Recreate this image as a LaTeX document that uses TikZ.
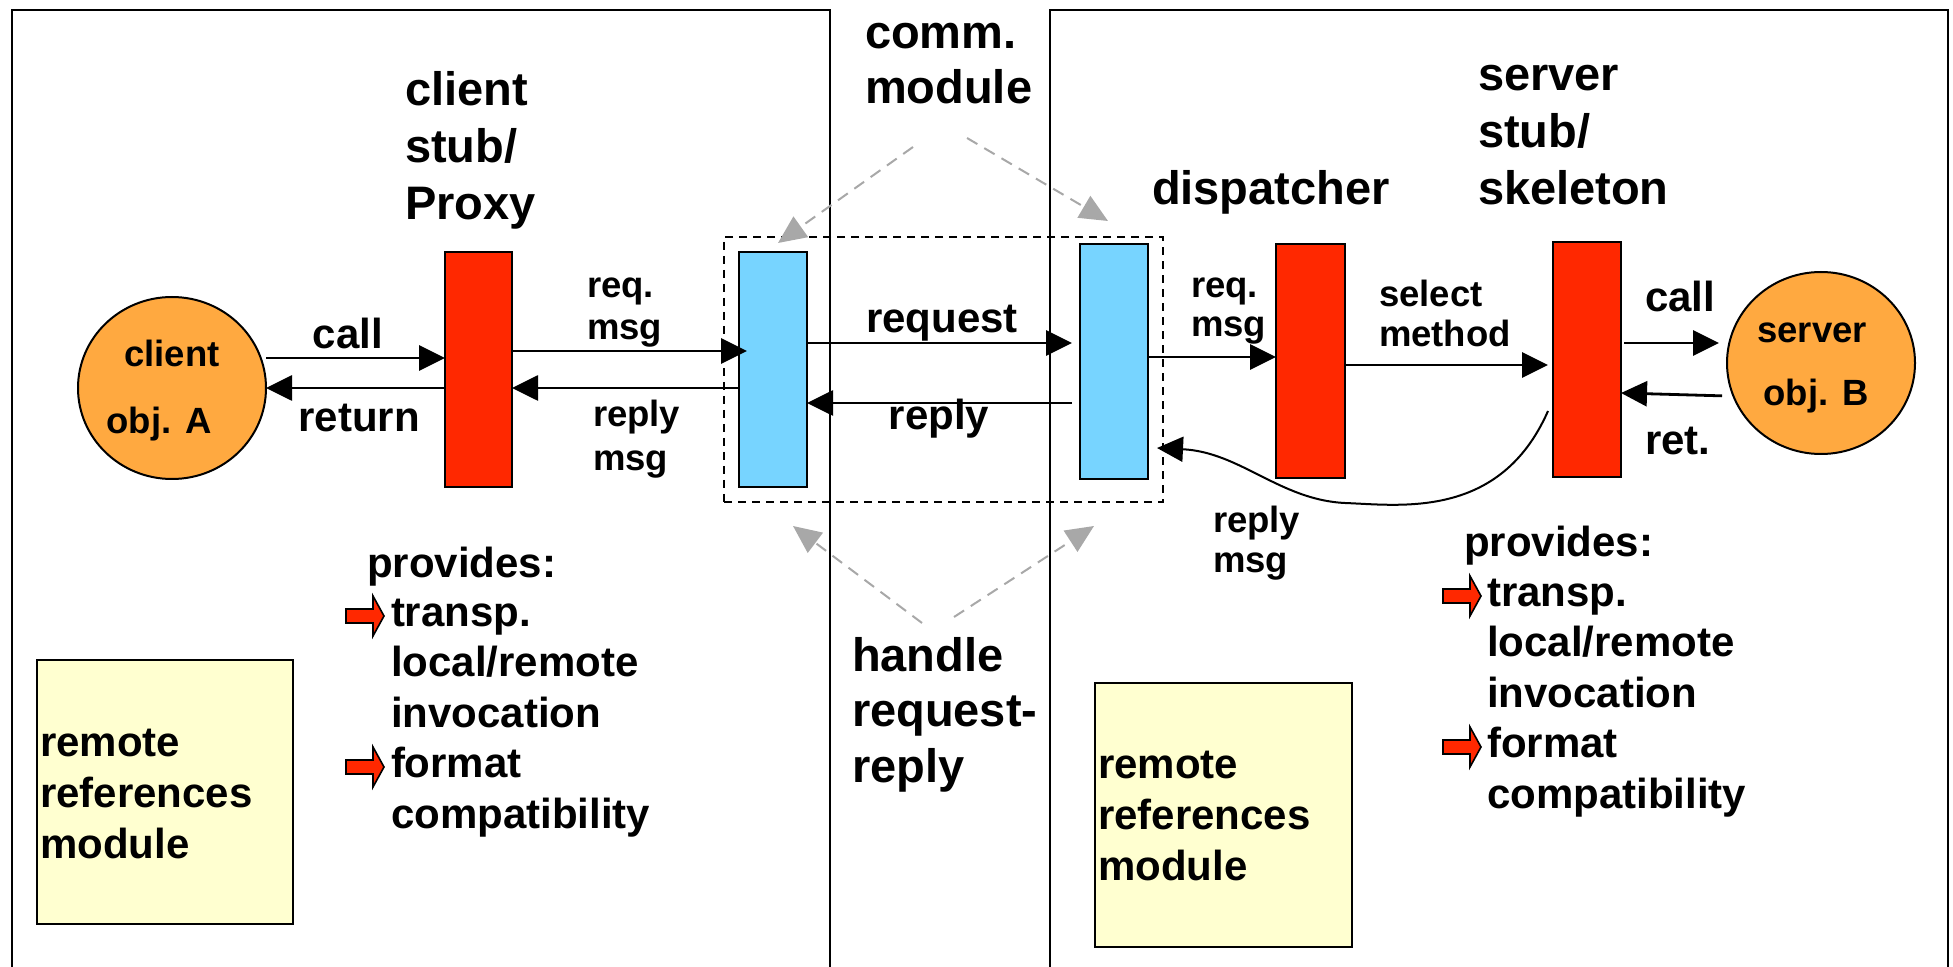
\documentclass[tikz,border=0pt]{standalone}
\usepackage{fontspec}
\setmainfont{Liberation Sans}
\usetikzlibrary{arrows.meta,shapes.geometric}
\definecolor{barred}{RGB}{255,40,0}
\definecolor{barblue}{RGB}{119,212,255}
\definecolor{objorange}{RGB}{255,169,64}
\definecolor{refyellow}{RGB}{255,255,208}
\definecolor{hintgray}{RGB}{168,168,168}
\newcommand{\lns}[1]{\begin{tabular}[t]{@{}l@{}}#1\end{tabular}}
\tikzset{
  bigtxt/.style={anchor=base west, inner sep=0pt, outer sep=0pt, font=\fontsize{23.5}{28.5}\selectfont\bfseries},
  midtxt/.style={anchor=base west, inner sep=0pt, outer sep=0pt, font=\fontsize{21}{24.75}\selectfont\bfseries},
  smalltxt/.style={anchor=base west, inner sep=0pt, outer sep=0pt, font=\fontsize{18.25}{20.5}\selectfont\bfseries},
  redbar/.style={draw=black, line width=1pt, fill=barred, inner sep=0pt, outer sep=0pt},
  bluebar/.style={draw=black, line width=1pt, fill=barblue, inner sep=0pt, outer sep=0pt},
  objell/.style={ellipse, draw=black, line width=1pt, fill=objorange, inner sep=0pt, outer sep=0pt, minimum width=94pt, minimum height=91pt},
  refbox/.style={draw=black, line width=1pt, fill=refyellow, inner sep=0pt, outer sep=0pt},
  panel/.style={draw=black, line width=1pt},
  arr/.style={draw=black, line width=1.4pt, -{Triangle[length=13pt,width=12.5pt]}},
  curvearr/.style={draw=black, line width=1pt, -{Triangle[length=13pt,width=12.5pt]}},
  hint/.style={draw=hintgray, line width=1pt, dash pattern=on 6pt off 4pt, -{Triangle[length=14pt,width=12.5pt]}},
  groupbox/.style={draw=black, line width=1pt, dash pattern=on 4pt off 3pt, inner sep=0pt, outer sep=0pt},
  bul/.style={draw=black, line width=0.8pt, fill=barred}
}
\newcommand{\bularrow}[2]{\draw[bul, shift={(#1,#2)}] (0,-7) -- (27,-7) -- (27,-20) -- (38,0) -- (27,20) -- (27,7) -- (0,7) -- cycle;}
\begin{document}
\begin{tikzpicture}[x=0.5pt,y=-0.5pt]
\useasboundingbox (0,0) rectangle (1953,967);
% panels
\draw[panel] (12,967) -- (12,10) -- (830,10) -- (830,967);
\draw[panel] (1050,967) -- (1050,10) -- (1948,10) -- (1948,967);

% remote reference boxes
\node[refbox, minimum width=128pt, minimum height=132pt] (refboxL) at (165,792) {};
\node[refbox, minimum width=128.5pt, minimum height=132pt] (refboxR) at (1223.5,815) {};
\node[midtxt, font=\fontsize{21}{25.5}\selectfont\bfseries] (refL) at (40,756) {\lns{remote\\references\\module}};
\node[midtxt, font=\fontsize{21}{25.5}\selectfont\bfseries] (refR) at (1098,778) {\lns{remote\\references\\module}};

% dashed comm. module group
\node[groupbox, minimum width=219.5pt, minimum height=132.5pt] (cbox) at (943.5,369.5) {};

% bars
\node[redbar, minimum width=33.5pt, minimum height=117.5pt] (cstub) at (478.5,369.5) {};
\node[bluebar, minimum width=34pt, minimum height=117.5pt] (lblue) at (773,369.5) {};
\node[bluebar, minimum width=34pt, minimum height=117.5pt] (rblue) at (1114,361.5) {};
\node[redbar, minimum width=34.5pt, minimum height=117pt] (disp) at (1310.5,361) {};
\node[redbar, minimum width=34pt, minimum height=117.5pt] (skel) at (1587,359.5) {};

% objects
\node[objell] (objA) at (172,388) {};
\node[objell] (objB) at (1821,363) {};
\node[smalltxt, anchor=base] (objAt1) at (172,367) {client};
\node[smalltxt, anchor=base] (objAt2) at (159,434) {obj. A};
\node[smalltxt, anchor=base] (objBt1) at (1812,343) {server};
\node[smalltxt, anchor=base] (objBt2) at (1816,406) {obj. B};

% big titles
\node[bigtxt] (cstubt) at (405,106) {\lns{client\\stub/\\Proxy}};
\node[bigtxt, font=\fontsize{23.5}{27.5}\selectfont\bfseries] (commt) at (865,49) {\lns{comm.\\module}};
\node[bigtxt] (dispt) at (1152,205) {dispatcher};
\node[bigtxt] (skelt) at (1478,91) {\lns{server\\stub/\\skeleton}};
\node[bigtxt, font=\fontsize{23.5}{27.75}\selectfont\bfseries] (handlet) at (852,671) {\lns{handle\\request-\\reply}};

% connector labels
\node[midtxt, anchor=base] (callL) at (348,349) {call};
\node[midtxt, anchor=base] (retL) at (359,432) {return};
\node[smalltxt, font=\fontsize{18.25}{21}\selectfont\bfseries] (reqmsgL) at (587,298) {\lns{req.\\msg}};
\node[smalltxt, font=\fontsize{18.25}{22}\selectfont\bfseries] (repmsgL) at (593,427) {\lns{reply\\msg}};
\node[midtxt, anchor=base] (reqt) at (942,333) {request};
\node[midtxt, anchor=base] (rept) at (939,430) {reply};
\node[smalltxt, font=\fontsize{18.25}{19.5}\selectfont\bfseries] (reqmsgR) at (1191,298) {\lns{req.\\msg}};
\node[smalltxt, font=\fontsize{18.25}{20}\selectfont\bfseries] (selt) at (1379,307) {\lns{select\\method}};
\node[midtxt] (callR) at (1645,312) {call};
\node[midtxt] (retR) at (1645,455) {ret.};
\node[smalltxt] (repmsgR) at (1213,532) {\lns{reply\\msg}};

% provides lists
\node[midtxt] (provL) at (367,577) {provides:};
\node[midtxt, font=\fontsize{21}{25.25}\selectfont\bfseries] (provLi) at (391,626) {\lns{transp.\\local/remote\\invocation\\format\\compatibility}};
\node[midtxt] (provR) at (1464,556) {provides:};
\node[midtxt, font=\fontsize{21}{25.25}\selectfont\bfseries] (provRi) at (1487,606) {\lns{transp.\\local/remote\\invocation\\format\\compatibility}};
\bularrow{346}{616}
\bularrow{346}{767}
\bularrow{1443}{596}
\bularrow{1443}{747}

% connectors
\path ([xshift=4pt]lblue.west) coordinate (lbIn);
\draw[arr] (objA.east |- 0,358) -- (cstub.west |- 0,358);
\draw[arr] (cstub.west |- 0,388) -- (objA.east |- 0,388);
\draw[arr] (cstub.east |- 0,351) -- (lbIn |- 0,351);
\draw[arr] (lblue.west |- 0,388) -- (cstub.east |- 0,388);
\draw[arr, shorten >=4pt] (lblue.east |- 0,343) -- (rblue.west |- 0,343);
\draw[arr, shorten <=4pt] (rblue.west |- 0,403) -- (lblue.east |- 0,403);
\draw[arr] (rblue.east |- 0,357) -- (disp.west |- 0,357);
\draw[arr, shorten >=2.5pt] (disp.east |- 0,365) -- (skel.west |- 0,365);
\draw[arr, shorten <=1.5pt, shorten >=4pt] (skel.east |- 0,343) -- (objB.west |- 0,343);
\draw[arr, shorten <=2.5pt] (objB.west |- 0,396) -- (skel.east |- 0,393);
\path (skel.west |- 0,411) coordinate (cvS);
\path ([xshift=4.5pt]rblue.east |- 0,448) coordinate (cvE);
\draw[curvearr] ([xshift=-2.5pt]cvS) .. controls (1500,520) and (1400,505) .. (1345,503) .. controls (1280,500) and (1240,452) .. (cvE);

% hint arrows
\coordinate (h1s) at (913,147);
\coordinate (h1e) at (778,243);
\coordinate (h2s) at (967,138);
\coordinate (h2e) at (1108,221);
\coordinate (h3s) at (922,623);
\coordinate (h3e) at (793,526);
\coordinate (h4s) at (954,617);
\coordinate (h4e) at (1094,526);
\draw[hint] (h1s) -- (h1e);
\draw[hint] (h2s) -- (h2e);
\draw[hint] (h3s) -- (h3e);
\draw[hint] (h4s) -- (h4e);
\end{tikzpicture}
\end{document}
